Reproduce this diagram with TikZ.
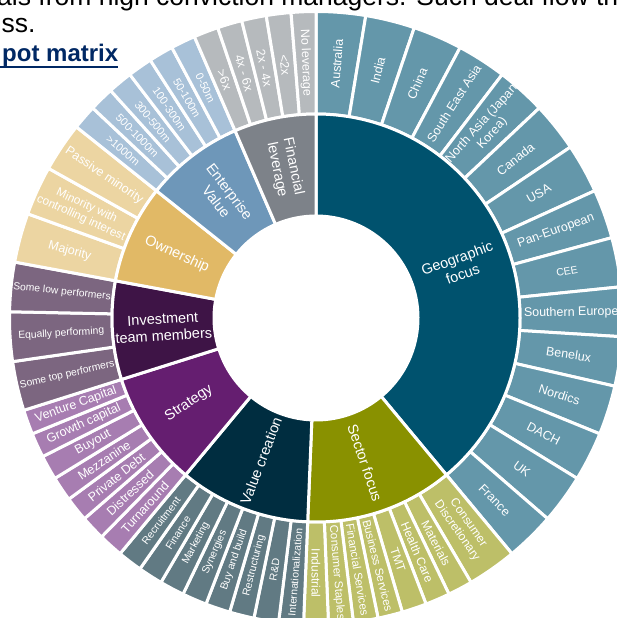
\documentclass[tikz,border=0pt]{standalone}
\usepackage{fontspec}
\setmainfont{Liberation Sans}
\definecolor{geoIn}{RGB}{0,82,110}
\definecolor{geoOut}{RGB}{100,151,170}
\definecolor{secIn}{RGB}{137,145,0}
\definecolor{secOut}{RGB}{189,191,104}
\definecolor{valIn}{RGB}{0,45,64}
\definecolor{valOut}{RGB}{97,122,131}
\definecolor{strIn}{RGB}{101,30,112}
\definecolor{strOut}{RGB}{167,125,177}
\definecolor{invIn}{RGB}{62,20,70}
\definecolor{invOut}{RGB}{124,102,128}
\definecolor{ownIn}{RGB}{225,185,102}
\definecolor{ownOut}{RGB}{236,213,162}
\definecolor{evIn}{RGB}{110,151,185}
\definecolor{evOut}{RGB}{168,193,216}
\definecolor{flIn}{RGB}{125,130,137}
\definecolor{flOut}{RGB}{182,186,189}
\definecolor{linkblue}{RGB}{0,40,100}
\tikzset{
  segfill/.style={fill=#1, draw=white, line width=3pt},
  seglabel/.style={text=white, inner sep=0pt, align=center},
  bodytext/.style={anchor=base west, inner sep=0pt, font=\fontsize{26.5}{30}\selectfont}
}
% one annular sector of the sunburst, measured in units of 360/77 degrees
% #1 inner radius, #2 outer radius, #3 first unit, #4 last unit,
% #5 fill colour, #6 font size, #7 label
\pgfmathsetmacro\U{360/77}
\newcommand\sbseg[7]{%
  \pgfmathsetmacro\aA{90-(#3)*\U}%
  \pgfmathsetmacro\aB{90-(#4)*\U}%
  \pgfmathsetmacro\aM{(\aA+\aB)/2}%
  \pgfmathsetmacro\rM{(#1+#2)/2}%
  \pgfmathsetmacro\tR{(\aM < -90.01) ? (\aM+180) : (\aM)}%
  \pgfmathsetmacro\fB{#6*1.15}%
  \path[segfill=#5] (\aA:#1pt) -- (\aA:#2pt)
    arc[start angle=\aA, end angle=\aB, radius=#2pt] -- (\aB:#1pt)
    arc[start angle=\aB, end angle=\aA, radius=#1pt] -- cycle;
  \node[seglabel, rotate=\tR, font=\fontsize{#6}{\fB}\selectfont]
    (lbl-#1-#3) at (\aM:\rM pt) {#7};%
}
\begin{document}
\begin{tikzpicture}[x=1pt,y=1pt]
\useasboundingbox (0,0) rectangle (616,-618);
\fill[white] (0,0) rectangle (616,-618);

% running text above the chart
\node[bodytext] (line1) at (-3,-5.5) {als from high conviction managers. Such deal flow th};
\node[bodytext] (line2) at (1.5,-33) {ss.};
\node[anchor=base west, inner sep=0pt, text=linkblue,
      font=\bfseries\fontsize{24}{28}\selectfont] (link) at (2,-62) {pot matrix};
\draw[linkblue, line width=2pt] ([shift={(-8pt,-5pt)}]link.base west) -- ([yshift=-5pt]link.base east);

\begin{scope}[shift={(316,-318)}]
% ---------- outer ring ----------
% Geographic focus
\sbseg{204}{306.5}{0}{2}{geoOut}{12.5}{Australia}
\sbseg{204}{306.5}{2}{4}{geoOut}{12.5}{India}
\sbseg{204}{306.5}{4}{6}{geoOut}{12.5}{China}
\sbseg{204}{306.5}{6}{8}{geoOut}{12.5}{South East Asia}
\sbseg{204}{306.5}{8}{10}{geoOut}{12.5}{North Asia (Japan\\Korea)}
\sbseg{204}{306.5}{10}{12}{geoOut}{12.5}{Canada}
\sbseg{204}{306.5}{12}{14}{geoOut}{12.5}{USA}
\sbseg{204}{306.5}{14}{16}{geoOut}{12.5}{Pan-European}
\sbseg{204}{306.5}{16}{18}{geoOut}{10.5}{CEE}
\sbseg{204}{306.5}{18}{20}{geoOut}{12.5}{Southern Europe}
\sbseg{204}{306.5}{20}{22}{geoOut}{12.5}{Benelux}
\sbseg{204}{306.5}{22}{24}{geoOut}{12.5}{Nordics}
\sbseg{204}{306.5}{24}{26}{geoOut}{12.5}{DACH}
\sbseg{204}{306.5}{26}{28}{geoOut}{12.5}{UK}
\sbseg{204}{306.5}{28}{30}{geoOut}{12.5}{France}
% Sector focus
\sbseg{204}{306.5}{30}{32}{secOut}{12}{Consumer\\Discretionary}
\sbseg{204}{306.5}{32}{33}{secOut}{12}{Materials}
\sbseg{204}{306.5}{33}{34}{secOut}{12}{Health Care}
\sbseg{204}{306.5}{34}{35}{secOut}{12}{TMT}
\sbseg{204}{306.5}{35}{36}{secOut}{11.5}{Business Services}
\sbseg{204}{306.5}{36}{37}{secOut}{11.5}{Financial Services}
\sbseg{204}{306.5}{37}{38}{secOut}{11.5}{Consumer Staples}
\sbseg{204}{306.5}{38}{39}{secOut}{12}{Industrial}
% Value creation
\sbseg{204}{306.5}{39}{40}{valOut}{10.5}{Internationalization}
\sbseg{204}{306.5}{40}{41}{valOut}{10.5}{R\&D}
\sbseg{204}{306.5}{41}{42}{valOut}{10.5}{Restructuring}
\sbseg{204}{306.5}{42}{43}{valOut}{10.5}{Buy and build}
\sbseg{204}{306.5}{43}{44}{valOut}{10.5}{Synergies}
\sbseg{204}{306.5}{44}{45}{valOut}{10.5}{Marketing}
\sbseg{204}{306.5}{45}{46}{valOut}{10.5}{Finance}
\sbseg{204}{306.5}{46}{47}{valOut}{10.5}{Recruitment}
% Strategy
\sbseg{204}{306.5}{47}{48}{strOut}{12.5}{Turnaround}
\sbseg{204}{306.5}{48}{49}{strOut}{12.5}{Distressed}
\sbseg{204}{306.5}{49}{50}{strOut}{12.5}{Private Debt}
\sbseg{204}{306.5}{50}{51}{strOut}{12.5}{Mezzanine}
\sbseg{204}{306.5}{51}{52}{strOut}{12.5}{Buyout}
\sbseg{204}{306.5}{52}{53}{strOut}{12.5}{Growth capital}
\sbseg{204}{306.5}{53}{54}{strOut}{12.5}{Venture Capital}
% Investment team members
\sbseg{204}{306.5}{54}{56}{invOut}{10.3}{Some top performers}
\sbseg{204}{306.5}{56}{58}{invOut}{10.3}{Equally performing}
\sbseg{204}{306.5}{58}{60}{invOut}{10.3}{Some low performers}
% Ownership
\sbseg{204}{306.5}{60}{62}{ownOut}{12.5}{Majority}
\sbseg{204}{306.5}{62}{64}{ownOut}{11.8}{Minority with\\controlling interest}
\sbseg{204}{306.5}{64}{66}{ownOut}{12.5}{Passive minority}
% Enterprise Value
\sbseg{204}{306.5}{66}{67}{evOut}{11}{>1000m}
\sbseg{204}{306.5}{67}{68}{evOut}{11}{500-1000m}
\sbseg{204}{306.5}{68}{69}{evOut}{11}{300-500m}
\sbseg{204}{306.5}{69}{70}{evOut}{11}{100-300m}
\sbseg{204}{306.5}{70}{71}{evOut}{11}{50-100m}
\sbseg{204}{306.5}{71}{72}{evOut}{11}{0-50m}
% Financial leverage
\sbseg{204}{306.5}{72}{73}{flOut}{12.5}{>6x}
\sbseg{204}{306.5}{73}{74}{flOut}{12.5}{4x - 6x}
\sbseg{204}{306.5}{74}{75}{flOut}{12.5}{2x - 4x}
\sbseg{204}{306.5}{75}{76}{flOut}{12.5}{<2x}
\sbseg{204}{306.5}{76}{77}{flOut}{12.5}{No leverage}

% ---------- inner ring ----------
\sbseg{102}{204}{0}{30}{geoIn}{14.5}{Geographic\\focus}
\sbseg{102}{204}{30}{39}{secIn}{14.5}{Sector focus}
\sbseg{102}{204}{39}{47}{valIn}{14.5}{Value creation}
\sbseg{102}{204}{47}{54}{strIn}{14.5}{Strategy}
\sbseg{102}{204}{54}{60}{invIn}{14.5}{Investment\\team members}
\sbseg{102}{204}{60}{66}{ownIn}{14.5}{Ownership}
\sbseg{102}{204}{66}{72}{evIn}{14.5}{Enterprise\\Value}
\sbseg{102}{204}{72}{77}{flIn}{14.5}{Financial\\leverage}
\end{scope}
\end{tikzpicture}
\end{document}
